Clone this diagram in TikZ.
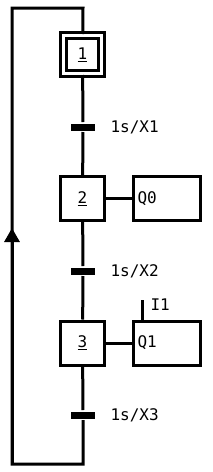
\documentclass[tikz,border=0pt]{standalone}
\usepackage{fontspec}
\setmonofont{DejaVu Sans Mono}
\usepackage{tikz}
\usetikzlibrary{arrows.meta,positioning}

\begin{document}
\begin{tikzpicture}[
      x=1pt, y=-1pt,
      line width=3pt,
      font=\ttfamily\fontsize{16}{19}\selectfont,
      stepbox/.style={draw, minimum width=44pt, minimum height=44pt, inner sep=0pt},
      initstep/.style={draw, double, double distance=3pt, line width=3pt, minimum width=38pt, minimum height=38pt, inner sep=0pt},
      action/.style={draw, minimum width=67pt, minimum height=44pt, inner sep=3pt, align=left},
      trans/.style={fill=black, minimum width=24pt, minimum height=7pt, inner sep=0pt},
      cond/.style={anchor=west, inner sep=0pt}
    ]

    \useasboundingbox (0,0) rectangle (212,472);

    % -------- steps --------
    \node[initstep] (s1) at (82.5,54.5) {\underline{1}};
    \node[stepbox] (s2) at (82.5,198.5) {\underline{2}};
    \node[stepbox] (s3) at (82.5,343) {\underline{3}};

    % -------- actions --------
    \node[action, text width=58pt] (q0) at (166.5,198.5) {Q0};
    \node[action, text width=58pt] (q1) at (166.5,343) {Q1};

    % -------- transitions --------
    \node[trans] (t1) at (83,127) {};
    \node[trans] (t2) at (83,271) {};
    \node[trans] (t3) at (83,415) {};

    \node[cond] (c1) at (109,127) {1s/X1};
    \node[cond] (c2) at (109,271) {1s/X2};
    \node[cond] (c3) at (109,415) {1s/X3};

    % entree I1 sur Q1
    \coordinate (i1top) at (142,300);
    \draw (i1top) -- (i1top |- q1.north);
    \node[cond] (i1) at (149,305) {I1};

    % -------- liaisons --------
    \draw (s1) -- (t1) -- (s2) -- (t2) -- (s3) -- (t3);
    \draw (s2) -- (q0);
    \draw (s3) -- (q1);

    % boucle de retour
    \coordinate (br) at (83,464);
    \coordinate (bl) at (12,464);
    \coordinate (tl) at (12,8);
    \coordinate (tr) at (83,8);
    \coordinate (arw) at (12,228);
    \draw (t3) -- (br) -- (bl) -- (tl) -- (tr) -- (s1);
    \draw[-{Triangle[length=14pt,width=15pt]}] (bl) -- (arw);

\end{tikzpicture}
\end{document}
